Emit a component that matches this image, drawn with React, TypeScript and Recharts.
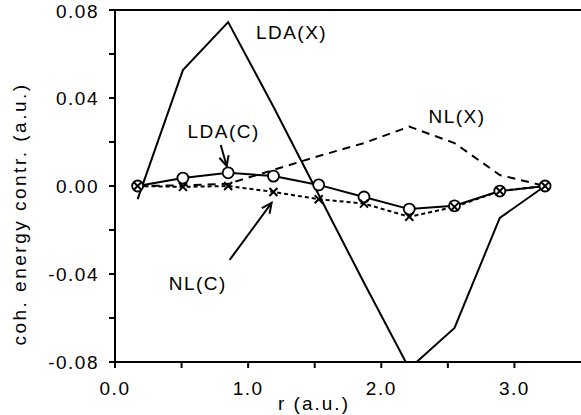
import React from 'react';
import {
  LineChart,
  Line,
  XAxis,
  YAxis,
  ReferenceLine,
  ReferenceDot,
} from 'recharts';

// radial positions (a.u.)
const rValues = [0.17, 0.51, 0.85, 1.19, 1.53, 1.87, 2.21, 2.55, 2.89, 3.23];

// coherent energy contributions (a.u.)
const ldaX = [-0.006, 0.0527, 0.0745, 0.036, -0.004, -0.044, -0.083, -0.0645, -0.0145, 0.0];
const nlX = [0.0, 0.0003, 0.001, 0.0073, 0.0136, 0.0195, 0.027, 0.0195, 0.005, 0.0];
const ldaC = [0.0, 0.0036, 0.006, 0.0045, 0.0005, -0.005, -0.0105, -0.009, -0.0023, 0.0];
const nlC = [0.0, -0.0004, 0.0, -0.0027, -0.006, -0.008, -0.014, -0.0095, -0.0023, 0.0];

const xTicks = [0, 0.5, 1, 1.5, 2, 2.5, 3];
const yTicks = [-0.08, -0.06, -0.04, -0.02, 0, 0.02, 0.04, 0.06, 0.08];

const curveLabels = [
  { text: 'LDA(X)', x: 1.326, y: 0.07 },
  { text: 'LDA(C)', x: 0.816, y: 0.025 },
  { text: 'NL(X)', x: 2.569, y: 0.0318 },
  { text: 'NL(C)', x: 0.622, y: -0.0441 },
];

const arrows = [
  { from: { x: 0.794, y: 0.0186 }, to: { x: 0.839, y: 0.0091 } },
  { from: { x: 0.861, y: -0.0336 }, to: { x: 1.176, y: -0.0077 } },
];

const data = rValues.map((r, i) => ({
  r,
  ldaX: ldaX[i],
  nlX: nlX[i],
  ldaC: ldaC[i],
  nlC: nlC[i],
}));

const FONT = '"Liberation Sans", Arial, Helvetica, sans-serif';
const tickStyle = { fill: '#000', fontSize: 19, fontFamily: FONT, letterSpacing: 1.5 };

const CrossDot = (props: any) => {
  const { cx, cy, index } = props;
  if (cx == null || cy == null) return <g key={`c-${index}`} />;
  const s = 4;
  return (
    <path
      key={`c-${index}`}
      d={`M${cx - s},${cy - s}L${cx + s},${cy + s}M${cx - s},${cy + s}L${cx + s},${cy - s}`}
      stroke="#000"
      strokeWidth={2}
      fill="none"
    />
  );
};

const Arrow = (props: any) => {
  const { x1, y1, x2, y2 } = props;
  if ([x1, y1, x2, y2].some((v) => v == null || isNaN(v))) return <g />;
  const ang = Math.atan2(y2 - y1, x2 - x1);
  const len = 11;
  const spread = 0.45;
  const ax = x2 - len * Math.cos(ang - spread);
  const ay = y2 - len * Math.sin(ang - spread);
  const bx = x2 - len * Math.cos(ang + spread);
  const by = y2 - len * Math.sin(ang + spread);
  return (
    <g>
      <line x1={x1} y1={y1} x2={x2} y2={y2} stroke="#000" strokeWidth={2} />
      <polyline points={`${ax},${ay} ${x2},${y2} ${bx},${by}`} stroke="#000" strokeWidth={2} fill="none" />
    </g>
  );
};

const App = () => {
  return (
    <div style={{ position: 'absolute', left: 0, top: 0, background: '#fff' }}>
      <LineChart
        width={581}
        height={415}
        data={data}
        margin={{ top: 10, right: 0, bottom: 0, left: 0 }}
      >
        <XAxis
          dataKey="r"
          type="number"
          domain={[0, 3.5]}
          ticks={xTicks}
          allowDataOverflow
          height={53}
          tickSize={6}
          tickMargin={14}
          stroke="#000"
          axisLine={{ stroke: '#000', strokeWidth: 2 }}
          tickLine={{ stroke: '#000', strokeWidth: 2 }}
          tick={tickStyle}
          tickFormatter={(v: number) => (Number.isInteger(v) ? v.toFixed(1) : '')}
          label={{
            content: () => (
              <text
                x={314}
                y={410}
                textAnchor="middle"
                fontSize={19}
                fontFamily={FONT}
                letterSpacing={2}
                fill="#000"
              >
                r (a.u.)
              </text>
            ),
          }}
        />
        <YAxis
          type="number"
          domain={[-0.08, 0.08]}
          ticks={yTicks}
          allowDataOverflow
          width={115}
          tickSize={6}
          tickMargin={10}
          stroke="#000"
          axisLine={{ stroke: '#000', strokeWidth: 2 }}
          tickLine={{ stroke: '#000', strokeWidth: 2 }}
          tick={tickStyle}
          tickFormatter={(v: number) =>
            Math.round(v * 100) % 4 === 0 ? (Math.abs(v) < 1e-9 ? '0.00' : v.toFixed(2)) : ''
          }
          label={{
            content: () => (
              <text
                x={19}
                y={214}
                transform="rotate(-90, 19, 214)"
                textAnchor="middle"
                dominantBaseline="central"
                fontSize={19}
                fontFamily={FONT}
                letterSpacing={2.5}
                fill="#000"
              >
                coh. energy contr. (a.u.)
              </text>
            ),
          }}
        />
        <ReferenceLine y={0.08} stroke="#000" strokeWidth={2} />

        <Line
          dataKey="ldaX"
          type="linear"
          stroke="#000"
          strokeWidth={2}
          dot={false}
          isAnimationActive={false}
        />
        <Line
          dataKey="nlX"
          type="linear"
          stroke="#000"
          strokeWidth={2}
          strokeDasharray="8 6"
          dot={false}
          isAnimationActive={false}
        />
        <Line
          dataKey="ldaC"
          type="linear"
          stroke="#000"
          strokeWidth={2}
          dot={{ r: 5.5, fill: '#fff', stroke: '#000', strokeWidth: 1.8 }}
          isAnimationActive={false}
        />
        <Line
          dataKey="nlC"
          type="linear"
          stroke="#000"
          strokeWidth={2}
          strokeDasharray="4 3"
          dot={CrossDot}
          isAnimationActive={false}
        />

        {arrows.map((a, i) => (
          <ReferenceLine key={`arrow-${i}`} segment={[a.from, a.to]} shape={Arrow} />
        ))}
        {curveLabels.map((l) => (
          <ReferenceDot
            key={l.text}
            x={l.x}
            y={l.y}
            r={0}
            shape={(p: any) => (
              <text
                x={p.cx}
                y={p.cy}
                textAnchor="middle"
                dominantBaseline="central"
                fontSize={19}
                fontFamily={FONT}
                letterSpacing={1.5}
                fill="#000"
              >
                {l.text}
              </text>
            )}
          />
        ))}
      </LineChart>
    </div>
  );
};

export default App;
